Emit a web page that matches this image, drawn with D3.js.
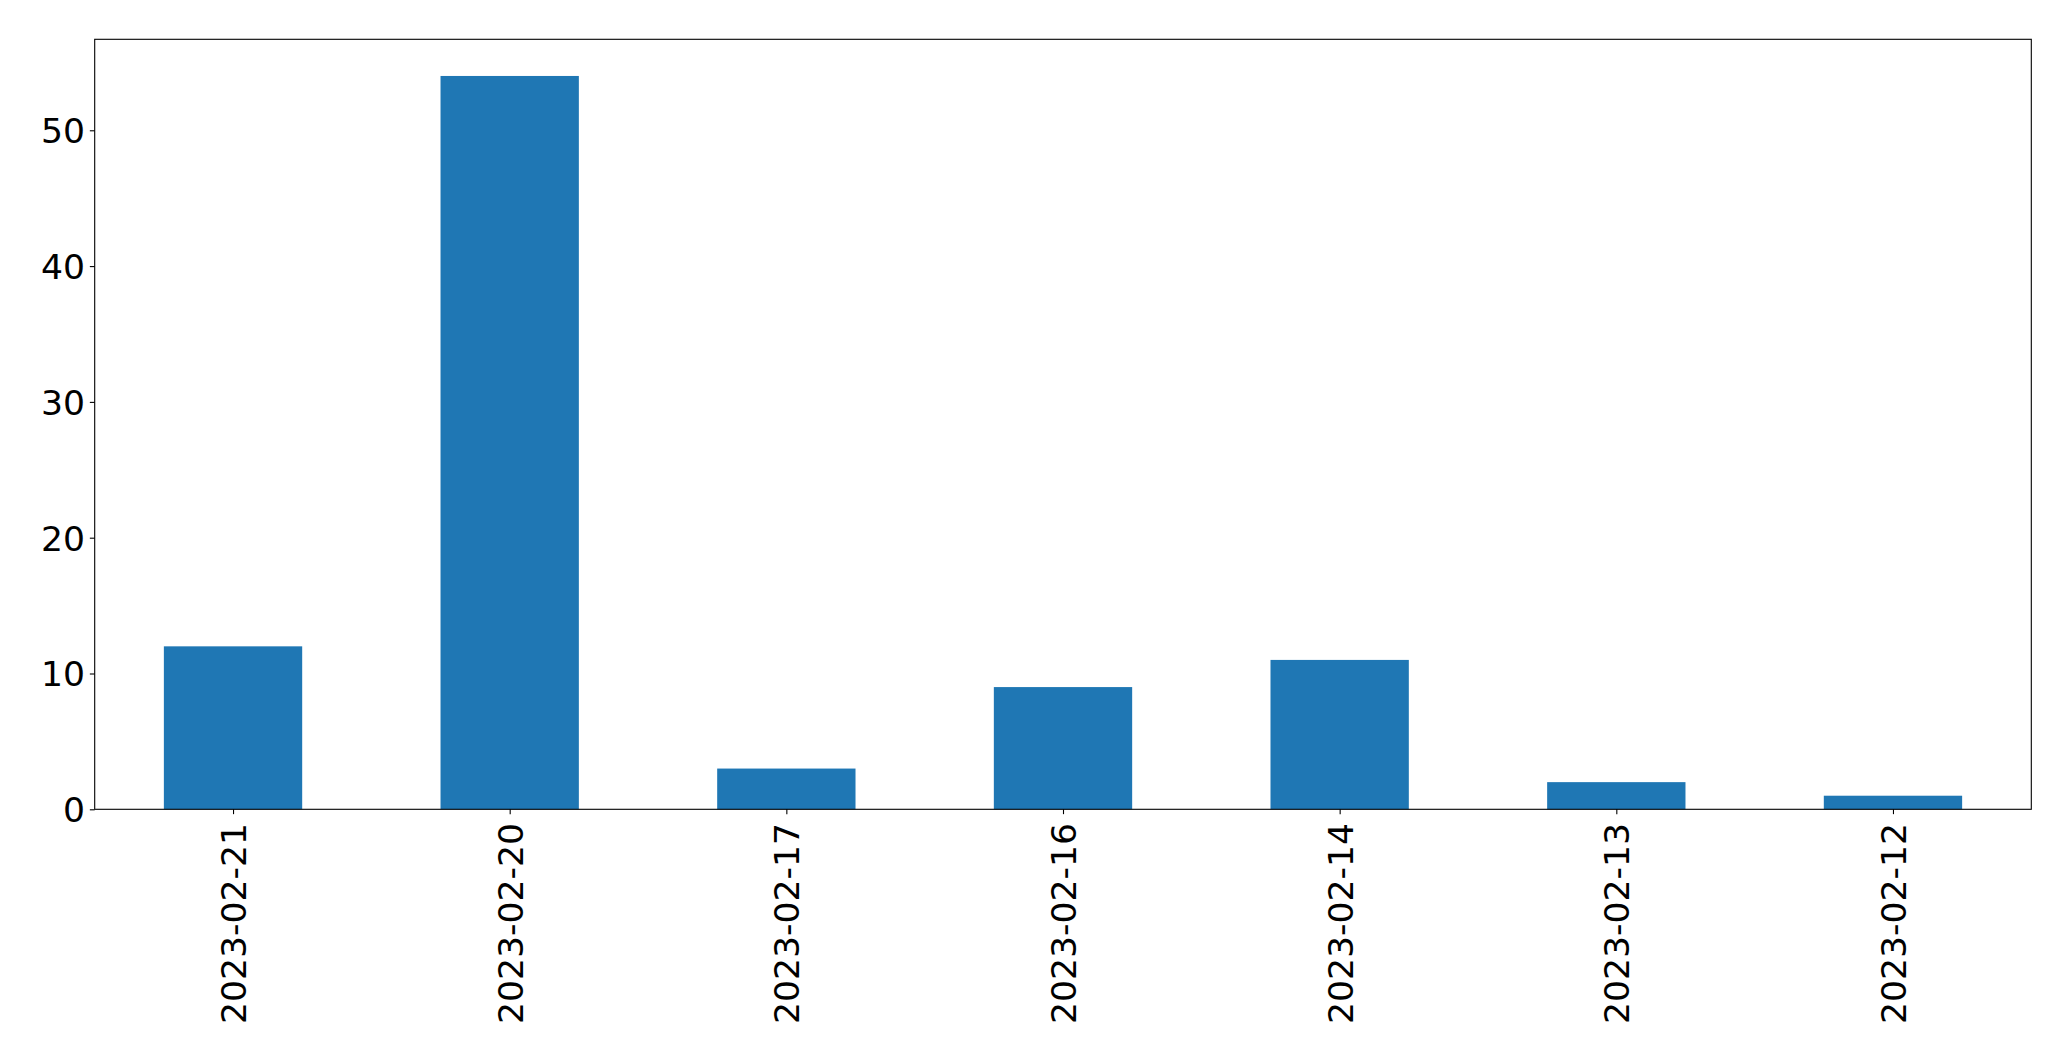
<!DOCTYPE html>
<html>
<head>
<meta charset="utf-8">
<script src="https://cdn.jsdelivr.net/npm/d3@7"></script>
<style>
  html, body { margin: 0; padding: 0; background: #fff; }
  svg { display: block; }
  text { font-family: "DejaVu Sans", sans-serif; fill: #000; }
</style>
</head>
<body>
<svg id="chart" width="2071" height="1061"></svg>
<script>
const categories = ["2023-02-21", "2023-02-20", "2023-02-17", "2023-02-16", "2023-02-14", "2023-02-13", "2023-02-12"];
const values = [12, 54, 3, 9, 11, 2, 1];
const yTicks = [0, 10, 20, 30, 40, 50];

const W = 2071, H = 1061;
const m = { left: 94.7, right: W - 2031.3, top: 39.3, bottom: H - 809.3 };
const pw = W - m.left - m.right, ph = H - m.top - m.bottom;

const svg = d3.select("#chart");
const g = svg.append("g").attr("transform", `translate(${m.left},${m.top})`);

const x = d3.scaleLinear().domain([-0.5, categories.length - 0.5]).range([0, pw]);
const yMax = d3.max(values) * 1.05;
const y = d3.scaleLinear().domain([0, yMax]).range([ph, 0]);

g.selectAll("rect.bar").data(values).join("rect")
  .attr("class", "bar")
  .attr("x", (d, i) => x(i - 0.25))
  .attr("width", (d, i) => x(i + 0.25) - x(i - 0.25))
  .attr("y", d => y(d))
  .attr("height", d => y(0) - y(d))
  .attr("fill", "#1f77b4");

const fs = 34.6;
const tickLen = 4.86, pad = 4.86;

const yAxis = d3.axisLeft(y).tickValues(yTicks).tickSize(tickLen).tickPadding(pad).tickFormat(d3.format("d"));
const ya = g.append("g").call(yAxis);
ya.select(".domain").remove();
ya.selectAll(".tick line").attr("stroke", "#000").attr("stroke-width", 1.1);
ya.selectAll(".tick text").style("font-size", fs + "px").attr("dy", "0.36em");

const xAxis = d3.axisBottom(x).tickValues(d3.range(categories.length)).tickSize(tickLen).tickPadding(pad)
  .tickFormat(i => categories[i]);
const xa = g.append("g").attr("transform", `translate(0,${ph})`).call(xAxis);
xa.select(".domain").remove();
xa.selectAll(".tick line").attr("stroke", "#000").attr("stroke-width", 1.1);
xa.selectAll(".tick text")
  .style("font-size", fs + "px")
  .attr("text-anchor", "end")
  .attr("transform", `translate(0,${tickLen + pad + 4}) rotate(-90)`)
  .attr("x", 0).attr("y", 0)
  .attr("dy", "0.36em");

g.append("rect").attr("x", 0).attr("y", 0).attr("width", pw).attr("height", ph)
  .attr("fill", "none").attr("stroke", "#000").attr("stroke-width", 1.1);
</script>
</body>
</html>
